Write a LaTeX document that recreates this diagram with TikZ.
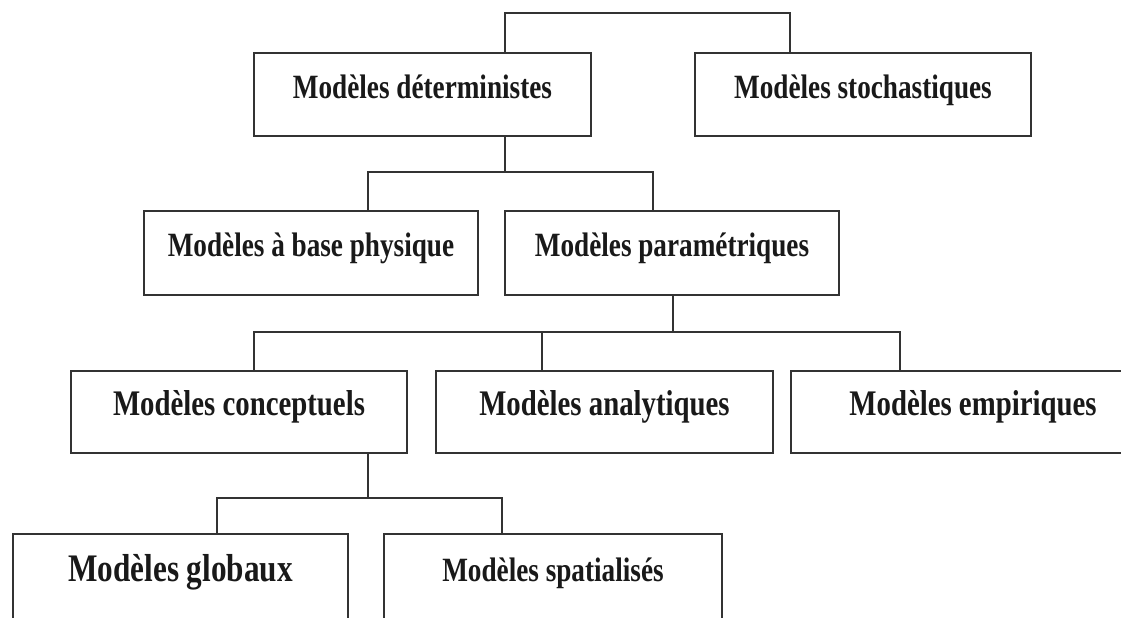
\documentclass[tikz,border=0pt]{standalone}
\usepackage{fontspec}
\newfontfamily\modelfont[FakeStretch=0.8]{Liberation Serif}
\usetikzlibrary{positioning}
\tikzstyle{link} = [line width=2pt, draw=black!80]

\begin{document}
\begin{tikzpicture}[x=1pt,y=-1pt]
    \tikzstyle{every node}=[font=\modelfont\bfseries\fontsize{36}{40}\selectfont, text=black!90]
    \tikzstyle{model} = [rectangle, draw=black!80, line width=2.8pt, fill=white, inner sep=0pt, text height=25pt, text depth=18pt, minimum height=83pt]
    \tikzstyle{small} = [font=\modelfont\bfseries\fontsize{34}{38}\selectfont]
    \tikzstyle{large} = [font=\modelfont\bfseries\fontsize{39}{42}\selectfont]

    \fill[white] (0,0) rectangle (1121,618);
    \useasboundingbox (0,0) rectangle (1121,618);

    % level 1
    \node[model, small, minimum width=337pt](det) at (422.5,94.5) {Modèles déterministes};
    \node[model, small, minimum width=336pt](sto) at (863,94.5) {Modèles stochastiques};
    % level 2
    \node[model, small, minimum width=334pt, minimum height=84pt](phy) at (311,253) {Modèles à base physique};
    \node[model, small, minimum width=334pt, minimum height=84pt](par) at (672,253) {Modèles paramétriques};
    % level 3
    \node[model, minimum width=336pt, minimum height=82pt](con) at (239,412) {Modèles conceptuels};
    \node[model, minimum width=337pt, minimum height=82pt](ana) at (604.5,412) {Modèles analytiques};
    \node[model, minimum width=364pt, minimum height=82pt](emp) at (973,412) {Modèles empiriques};
    % level 4
    \node[model, large, minimum width=335pt, minimum height=88pt](glo) at (180.5,578) {Modèles globaux};
    \node[model, small, minimum width=338pt, minimum height=88pt](spa) at (553,578) {Modèles spatialisés};

    % bus points
    \coordinate (t1) at (505,13);
    \coordinate (t2) at (790,13);
    \coordinate (b1) at (505,172);
    \coordinate (b1l) at (368,172);
    \coordinate (b1r) at (653,172);
    \coordinate (b2) at (673,332);
    \coordinate (b2l) at (254,332);
    \coordinate (b2m) at (542,332);
    \coordinate (b2r) at (900,332);
    \coordinate (b3) at (368,498);
    \coordinate (b3l) at (217,498);
    \coordinate (b3r) at (502,498);

    \draw[link] (t1 |- det.north) -- (t1) -- (t2) -- (t2 |- sto.north);
    \draw[link] (b1 |- det.south) -- (b1);
    \draw[link] (b1l |- phy.north) -- (b1l) -- (b1r) -- (b1r |- par.north);
    \draw[link] (b2 |- par.south) -- (b2);
    \draw[link] (b2l |- con.north) -- (b2l) -- (b2r) -- (b2r |- emp.north);
    \draw[link] (b2m) -- (b2m |- ana.north);
    \draw[link] (b3 |- con.south) -- (b3);
    \draw[link] (b3l |- glo.north) -- (b3l) -- (b3r) -- (b3r |- spa.north);
\end{tikzpicture}
\end{document}
